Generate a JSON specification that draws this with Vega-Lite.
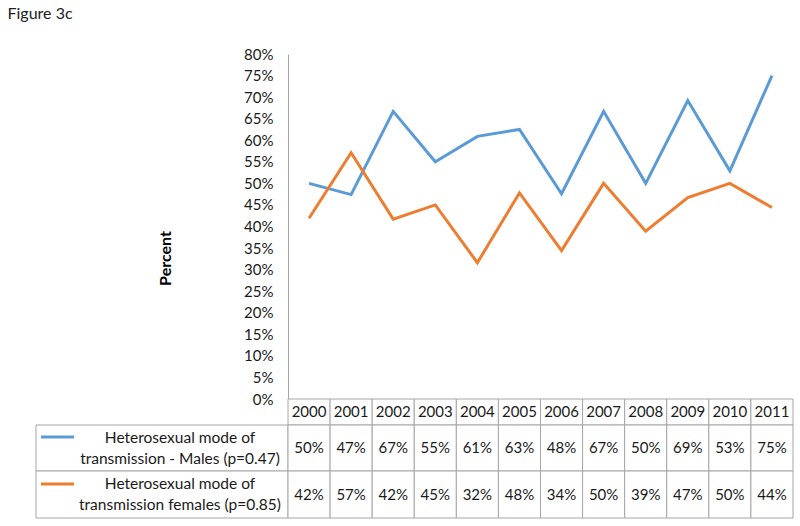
{
  "$schema": "https://vega.github.io/schema/vega-lite/v6.json",
  "background": "white",
  "padding": {"left": 7, "top": 6, "right": 8, "bottom": 8},
  "title": {
    "text": "Figure 3c",
    "anchor": "start",
    "dx": -28,
    "offset": 25,
    "fontSize": 16,
    "fontWeight": "normal",
    "color": "#222"
  },
  "datasets": {
    "pts": [
      {"year": "2000", "series": "Males", "pct": 0.5},
      {"year": "2001", "series": "Males", "pct": 0.474},
      {"year": "2002", "series": "Males", "pct": 0.667},
      {"year": "2003", "series": "Males", "pct": 0.55},
      {"year": "2004", "series": "Males", "pct": 0.609},
      {"year": "2005", "series": "Males", "pct": 0.625},
      {"year": "2006", "series": "Males", "pct": 0.476},
      {"year": "2007", "series": "Males", "pct": 0.667},
      {"year": "2008", "series": "Males", "pct": 0.5},
      {"year": "2009", "series": "Males", "pct": 0.692},
      {"year": "2010", "series": "Males", "pct": 0.529},
      {"year": "2011", "series": "Males", "pct": 0.75},
      {"year": "2000", "series": "Females", "pct": 0.419},
      {"year": "2001", "series": "Females", "pct": 0.571},
      {"year": "2002", "series": "Females", "pct": 0.417},
      {"year": "2003", "series": "Females", "pct": 0.45},
      {"year": "2004", "series": "Females", "pct": 0.316},
      {"year": "2005", "series": "Females", "pct": 0.478},
      {"year": "2006", "series": "Females", "pct": 0.344},
      {"year": "2007", "series": "Females", "pct": 0.5},
      {"year": "2008", "series": "Females", "pct": 0.389},
      {"year": "2009", "series": "Females", "pct": 0.467},
      {"year": "2010", "series": "Females", "pct": 0.5},
      {"year": "2011", "series": "Females", "pct": 0.444}
    ],
    "legend": [
      {"series": "Males", "label": "Heterosexual  mode of|transmission -  Males (p=0.47)"},
      {"series": "Females", "label": "Heterosexual mode of|transmission females (p=0.85)"}
    ]
  },
  "columns": 2,
  "spacing": 0,
  "bounds": "flush",
  "align": "each",
  "concat": [
    {
      "width": 252,
      "height": 345,
      "data": {"values": [{}]},
      "mark": {"type": "text"},
      "encoding": {"text": {"value": ""}}
    },
    {
      "width": 505,
      "height": 345,
      "data": {"name": "pts"},
      "mark": {"type": "line", "strokeWidth": 3},
      "encoding": {
        "x": {
          "field": "year",
          "type": "ordinal",
          "scale": {"type": "point", "padding": 0.5},
          "axis": null
        },
        "y": {
          "field": "pct",
          "type": "quantitative",
          "scale": {"domain": [0, 0.8], "nice": false},
          "axis": {
            "values": [0, 0.05, 0.1, 0.15, 0.2, 0.25, 0.3, 0.35, 0.4, 0.45, 0.5, 0.55, 0.6, 0.65, 0.7, 0.75, 0.8],
            "format": ".0%",
            "grid": false,
            "ticks": false,
            "domainColor": "#A6A6A6",
            "labelFontSize": 15,
            "labelColor": "#1a1a1a",
            "labelPadding": 15,
            "title": "Percent",
            "titleFontSize": 16,
            "titleFontWeight": "bold",
            "titleColor": "#000",
            "titleX": -115,
            "titleY": 204
          }
        },
        "color": {
          "field": "series",
          "type": "nominal",
          "scale": {"domain": ["Males", "Females"], "range": ["#5B9BD5", "#ED7D31"]},
          "legend": null
        }
      }
    },
    {
      "width": 252,
      "height": 26,
      "data": {"values": [{}]},
      "mark": {"type": "text"},
      "encoding": {"text": {"value": ""}}
    },
    {
      "width": 505,
      "height": 26,
      "data": {"name": "pts"},
      "transform": [{"filter": "datum.series === 'Males'"}],
      "encoding": {
        "x": {
          "field": "year",
          "type": "ordinal",
          "scale": {"paddingInner": 0, "paddingOuter": 0},
          "axis": null
        }
      },
      "layer": [
        {"mark": {"type": "rect", "fill": "white", "stroke": "#A6A6A6", "strokeWidth": 1}},
        {"mark": {"type": "text", "fontSize": 15, "color": "#1a1a1a"}, "encoding": {"text": {"field": "year"}}}
      ]
    },
    {
      "width": 252,
      "height": 46,
      "data": {"name": "legend"},
      "transform": [{"filter": "datum.series === 'Males'"}],
      "layer": [
        {"mark": {"type": "rect", "fill": "white", "stroke": "#A6A6A6", "strokeWidth": 1}},
        {
          "mark": {"type": "rule", "strokeWidth": 3},
          "encoding": {
            "x": {"datum": 5, "type": "quantitative", "scale": {"domain": [0, 252], "nice": false, "zero": false}, "axis": null},
            "x2": {"datum": 38},
            "y": {"datum": 12, "type": "quantitative", "scale": {"domain": [0, 46], "reverse": true, "nice": false}, "axis": null},
            "color": {"field": "series", "type": "nominal", "scale": {"domain": ["Males", "Females"], "range": ["#5B9BD5", "#ED7D31"]}, "legend": null}
          }
        },
        {
          "mark": {"type": "text", "fontSize": 15.5, "lineBreak": "|", "lineHeight": 21, "color": "#1a1a1a"},
          "encoding": {
            "x": {"datum": 144, "type": "quantitative"},
            "y": {"datum": 13, "type": "quantitative"},
            "text": {"field": "label"}
          }
        }
      ]
    },
    {
      "width": 505,
      "height": 46,
      "data": {"name": "pts"},
      "transform": [{"filter": "datum.series === 'Males'"}],
      "encoding": {
        "x": {
          "field": "year",
          "type": "ordinal",
          "scale": {"paddingInner": 0, "paddingOuter": 0},
          "axis": null
        }
      },
      "layer": [
        {"mark": {"type": "rect", "fill": "white", "stroke": "#A6A6A6", "strokeWidth": 1}},
        {"mark": {"type": "text", "fontSize": 15, "color": "#1a1a1a"}, "encoding": {"text": {"field": "pct", "type": "quantitative", "format": ".0%"}}}
      ]
    },
    {
      "width": 252,
      "height": 47,
      "data": {"name": "legend"},
      "transform": [{"filter": "datum.series === 'Females'"}],
      "layer": [
        {"mark": {"type": "rect", "fill": "white", "stroke": "#A6A6A6", "strokeWidth": 1}},
        {
          "mark": {"type": "rule", "strokeWidth": 3},
          "encoding": {
            "x": {"datum": 5, "type": "quantitative", "scale": {"domain": [0, 252], "nice": false, "zero": false}, "axis": null},
            "x2": {"datum": 38},
            "y": {"datum": 13, "type": "quantitative", "scale": {"domain": [0, 47], "reverse": true, "nice": false}, "axis": null},
            "color": {"field": "series", "type": "nominal", "scale": {"domain": ["Males", "Females"], "range": ["#5B9BD5", "#ED7D31"]}, "legend": null}
          }
        },
        {
          "mark": {"type": "text", "fontSize": 15.5, "lineBreak": "|", "lineHeight": 21, "color": "#1a1a1a"},
          "encoding": {
            "x": {"datum": 144, "type": "quantitative"},
            "y": {"datum": 13, "type": "quantitative"},
            "text": {"field": "label"}
          }
        }
      ]
    },
    {
      "width": 505,
      "height": 47,
      "data": {"name": "pts"},
      "transform": [{"filter": "datum.series === 'Females'"}],
      "encoding": {
        "x": {
          "field": "year",
          "type": "ordinal",
          "scale": {"paddingInner": 0, "paddingOuter": 0},
          "axis": null
        }
      },
      "layer": [
        {"mark": {"type": "rect", "fill": "white", "stroke": "#A6A6A6", "strokeWidth": 1}},
        {"mark": {"type": "text", "fontSize": 15, "color": "#1a1a1a"}, "encoding": {"text": {"field": "pct", "type": "quantitative", "format": ".0%"}}}
      ]
    }
  ],
  "config": {
    "font": "Lato",
    "view": {"stroke": null}
  }
}
